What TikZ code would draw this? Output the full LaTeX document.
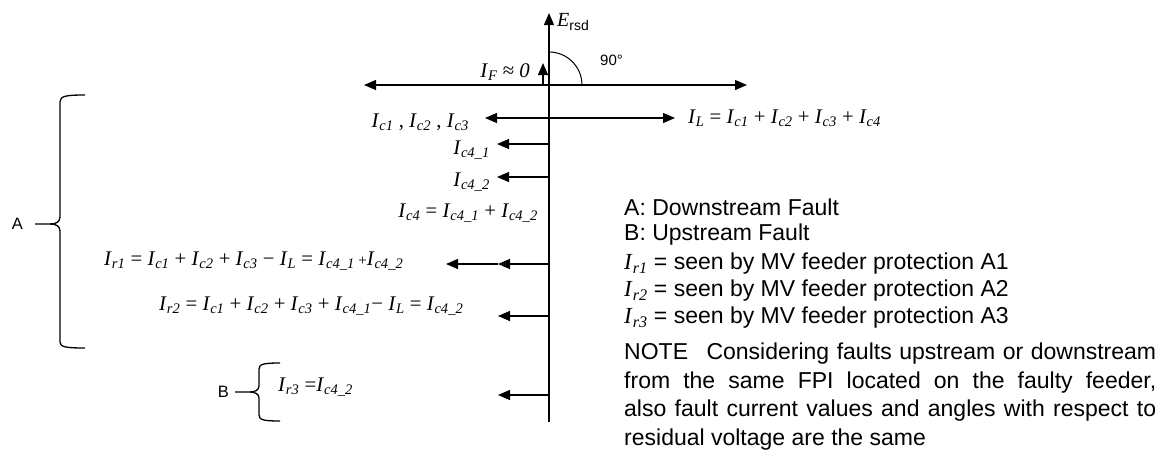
\documentclass[tikz,border=0pt]{standalone}
\usepackage{fontspec}
\setmainfont{Liberation Serif}
\setsansfont{Liberation Sans}
\usetikzlibrary{arrows.meta}
% current symbol with italic subscript
\newcommand\Ix[1]{\textit{I}\textsubscript{\textit{#1}}}
\begin{document}
\begin{tikzpicture}[x=1pt,y=-1pt,
  tip/.style={-{Triangle[length=12pt,width=10pt]}},
  vec/.style={line width=1.3pt,tip},
  bracepath/.style={line width=1.3pt},
  eq/.style={font=\fontsize{20.8}{24}\selectfont, inner sep=0pt},
  lbl/.style={font=\sffamily\fontsize{16.5}{18}\selectfont, inner sep=0pt},
  legend/.style={font=\sffamily\fontsize{23}{28.5}\selectfont, inner sep=0pt}]
\useasboundingbox (0,0) rectangle (1173,456);

% axes
\coordinate (O) at (549,85);
\coordinate (ytop) at (549,13);
\coordinate (ybot) at (549,422);
\coordinate (xl) at (364,85);
\coordinate (xr) at (747,85);
\draw[vec] (ybot) -- (ytop);
\draw[line width=1.3pt,{Triangle[length=12pt,width=10pt]}-{Triangle[length=12pt,width=10pt]}] (xl) -- (xr);
\node[anchor=west, inner sep=0pt] (E) at (557,22) {\fontsize{20}{24}\selectfont\textit{E}\textsubscript{\sffamily rsd}};

% fault current and right angle
\coordinate (IFa) at (543,85);
\coordinate (IFb) at (543,63);
\draw[vec] (IFa) -- (IFb);
\node[eq, anchor=east] (IF) at (530,72) {\Ix{F} ≈ \textit{0}};
\draw[line width=1pt] (549,52) arc[start angle=-90, end angle=0, radius=33];
\node[anchor=west, inner sep=0pt, font=\sffamily\fontsize{15}{17}\selectfont] (ang) at (600,60) {90°};

% capacitive currents
\coordinate (c0) at (549,118);
\coordinate (cl) at (485,118);
\coordinate (cr) at (675,118);
\draw[vec] (c0) -- (cl);
\draw[vec] (c0) -- (cr);
\node[eq, anchor=east] (Ic) at (469,122) {\Ix{c1} , \Ix{c2} , \Ix{c3}};
\node[eq, anchor=west] (IL) at (688,118) {\Ix{L} = \Ix{c1} + \Ix{c2} + \Ix{c3} + \Ix{c4}};

\coordinate (d0) at (549,144);
\coordinate (d1) at (497,144);
\draw[vec] (d0) -- (d1);
\node[eq, anchor=east] (Ic41) at (490,150) {\Ix{c4\_1}};

\coordinate (e0) at (549,177);
\coordinate (e1) at (497,177);
\draw[vec] (e0) -- (e1);
\node[eq, anchor=east] (Ic42) at (490,182) {\Ix{c4\_2}};

\node[eq, anchor=east] (Ic4) at (538,213) {\Ix{c4} = \Ix{c4\_1} + \Ix{c4\_2}};

% residual currents
\coordinate (r10) at (549,264);
\coordinate (r1m) at (498,264);
\coordinate (r1) at (446,264);
\draw[vec] (r10) -- (r1m);
\draw[vec] (r1m) -- (r1);
\node[eq, anchor=west] (Ir1) at (104,261) {\Ix{r1} = \Ix{c1} + \Ix{c2} + \Ix{c3} − \Ix{L} = \Ix{c4\_1}\,{\fontsize{15}{17}\selectfont+}\Ix{c4\_2}};

\coordinate (r20) at (549,316);
\coordinate (r2) at (498,316);
\draw[vec] (r20) -- (r2);
\node[eq, anchor=west] (Ir2) at (159,306) {\Ix{r2} = \Ix{c1} + \Ix{c2} + \Ix{c3} + \Ix{c4\_1}− \Ix{L} = \Ix{c4\_2}};

\coordinate (r30) at (549,395);
\coordinate (r3) at (498,395);
\draw[vec] (r30) -- (r3);
\node[eq, anchor=west] (Ir3) at (278,387) {\Ix{r3} =\Ix{c4\_2}};

% brace A
\draw[bracepath] (85,95) .. controls (66,95) and (60,96) .. (60,102) -- (60,217)
  .. controls (60,222) and (56,224) .. (50,224) -- (35,224);
\draw[bracepath] (50,224) .. controls (56,224) and (60,226) .. (60,231) -- (60,342)
  .. controls (60,347) and (66,348) .. (85,348);
\node[lbl, anchor=east] (A) at (23,224) {A};

% brace B
\draw[bracepath] (280,363) .. controls (264,363) and (259,364) .. (259,369) -- (259,386)
  .. controls (259,390) and (255,392) .. (250,392) -- (235,392);
\draw[bracepath] (250,392) .. controls (255,392) and (259,394) .. (259,398) -- (259,415)
  .. controls (259,420) and (264,421) .. (280,421);
\node[lbl, anchor=east] (B) at (229,392) {B};

% legend
\node[legend, anchor=west] (LA) at (624,207) {A: Downstream Fault};
\node[legend, anchor=west] (LB) at (624,235) {B: Upstream Fault};
\node[legend, anchor=west] (L1) at (624,264) {{\rmfamily\Ix{r1}} = seen by MV feeder protection A1};
\node[legend, anchor=west] (L2) at (624,291) {{\rmfamily\Ix{r2}} = seen by MV feeder protection A2};
\node[legend, anchor=west] (L3) at (624,318) {{\rmfamily\Ix{r3}} = seen by MV feeder protection A3};
\node[legend, anchor=north west, text width=532pt, align=justify] (note) at (624,343)
  {NOTE\hspace{0.8em}Considering faults upstream or downstream\linebreak
   from the same FPI located on the faulty feeder,\linebreak
   also fault current values and angles with respect to\linebreak
   residual voltage are the same};
\end{tikzpicture}
\end{document}
